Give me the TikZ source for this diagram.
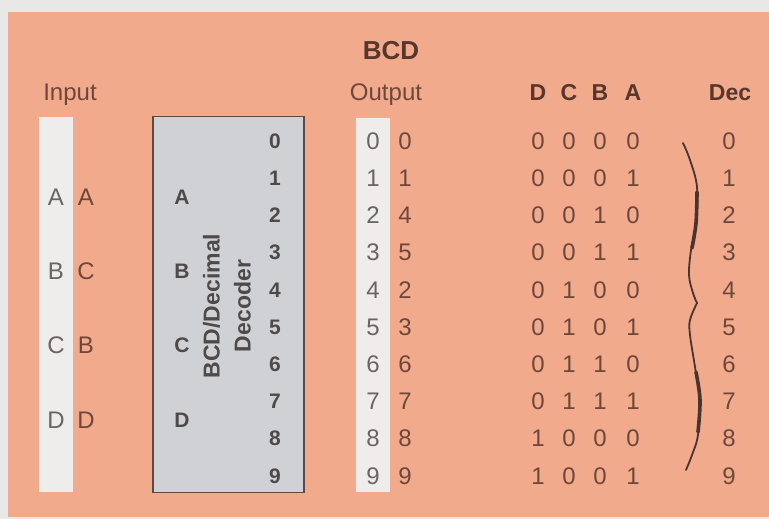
\documentclass[tikz,border=0pt]{standalone}
\usepackage{fontspec}
\setmainfont{Liberation Sans}
\definecolor{outerbg}{HTML}{E9E8E6}
\definecolor{salmon}{HTML}{F2AA8C}
\definecolor{strip}{HTML}{EFEDEB}
\definecolor{boxfill}{HTML}{CFD1D5}
\definecolor{boxline}{HTML}{5B4A44}
\definecolor{regtxt}{HTML}{6E473B}
\definecolor{graytxt}{HTML}{6A6464}
\definecolor{boldtxt}{HTML}{57362C}
\definecolor{boxtxt}{HTML}{4E4A4A}
\definecolor{bracecol}{HTML}{4A3430}
\begin{document}
\begin{tikzpicture}[x=1pt,y=-1pt,
  every node/.style={inner sep=0pt, outer sep=0pt},
  reg/.style={font=\fontsize{24}{28}\selectfont, text=regtxt},
  regstrip/.style={font=\fontsize{24}{28}\selectfont, text=graytxt},
  hdr/.style={font=\fontsize{23}{27}\selectfont\bfseries, text=boldtxt},
  boxlbl/.style={font=\fontsize{21}{25}\selectfont\bfseries, text=boxtxt},
  bracestyle/.style={draw=bracecol, line cap=round, line join=round}]
\useasboundingbox (0,0) rectangle (769,519);
\fill[outerbg] (0,0) rectangle (769,519);
\fill[salmon] (8,12) rectangle (769,517);
% strips and box
\fill[strip] (39,117) rectangle (73,492);
\fill[strip] (356,118) rectangle (390,492);
\node[draw=boxline, line width=1.2pt, fill=boxfill, minimum width=151pt, minimum height=376pt] (decbox) at (228.5,304.5) {};
% headers
\node[font=\fontsize{26}{30}\selectfont\bfseries, text=boldtxt] (title) at (391,51) {BCD};
\node[reg, anchor=base] (inlbl) at (70,100.5) {Input};
\node[reg, anchor=base] (outlbl) at (386,100.5) {Output};
\node[hdr] (hD) at (538,93) {D};
\node[hdr] (hC) at (569,93) {C};
\node[hdr] (hB) at (600,93) {B};
\node[hdr] (hA) at (633,93) {A};
\node[hdr] (hDec) at (730,93) {Dec};
% input letters
\foreach \k/\l/\r in {0/A/A,1/B/C,2/C/B,3/D/D}{
  \pgfmathsetmacro\yy{141+37.2*(1.5+2*\k)}
  \node[regstrip] (inL\k) at (56,\yy) {\l};
  \node[reg] (inR\k) at (86,\yy) {\r};
  \node[boxlbl] (boxin\k) at (182,\yy) {\l};
}
% rows
\foreach \i/\o/\d/\c/\b/\a in {0/0/0/0/0/0,1/1/0/0/0/1,2/4/0/0/1/0,3/5/0/0/1/1,4/2/0/1/0/0,5/3/0/1/0/1,6/6/0/1/1/0,7/7/0/1/1/1,8/8/1/0/0/0,9/9/1/0/0/1}{
  \pgfmathsetmacro\yy{141+37.2*\i}
  \node[boxlbl] (boxout\i) at (275,\yy) {\i};
  \node[regstrip] (outL\i) at (373,\yy) {\i};
  \node[reg] (outR\i) at (405,\yy) {\o};
  \node[reg] (bD\i) at (538,\yy) {\d};
  \node[reg] (bC\i) at (569,\yy) {\c};
  \node[reg] (bB\i) at (600,\yy) {\b};
  \node[reg] (bA\i) at (633,\yy) {\a};
  \node[reg] (dec\i) at (729,\yy) {\i};
}
% rotated label
\node[rotate=90, align=center, font=\fontsize{23}{31}\selectfont\bfseries, text=boxtxt] (decname) at (227,306) {BCD/Decimal\\Decoder};
% brace
\draw[bracestyle, line width=1.8pt] plot[smooth, tension=0.6] coordinates {(683,143) (690,160) (697,187) (696,223) (691,250) (689,275) (693,293) (697,303)};
\draw[bracestyle, line width=1.8pt] plot[smooth, tension=0.6] coordinates {(697,303) (690,320) (690,335) (695,367) (700,400) (698,435) (692,455) (686,470)};
\draw[bracestyle, line width=3.6pt] plot[smooth, tension=0.6] coordinates {(697,192) (696,223) (692,248)};
\draw[bracestyle, line width=3.6pt] plot[smooth, tension=0.6] coordinates {(696,372) (700,400) (698,432)};
\end{tikzpicture}
\end{document}
